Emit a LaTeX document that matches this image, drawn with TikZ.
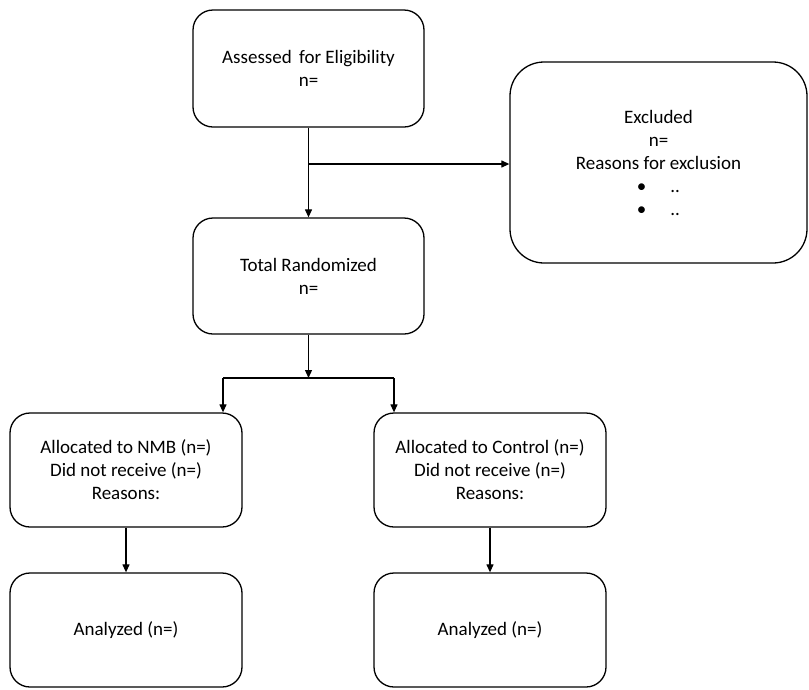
\documentclass[tikz,border=0pt]{standalone}
\usepackage{fontspec}
\setmainfont{Carlito}
\usetikzlibrary{arrows.meta}
\begin{document}
\begin{tikzpicture}[x=1pt,y=-1pt,
  box/.style={draw=black, line width=1.3pt, rounded corners=20pt, align=center,
    font=\fontsize{19}{23}\selectfont, inner sep=0pt},
  conn/.style={line width=1.2pt, -{Triangle[length=8pt,width=7pt]}},
  plain/.style={line width=1.2pt}]
\useasboundingbox (0,0) rectangle (809,689);
\node[box, minimum width=231pt, minimum height=117pt] (assess) at (308.5,68.5)
  {Assessed\hspace{3pt} for Eligibility\\n=};
\node[box, rounded corners=34pt, minimum width=297pt, minimum height=201pt] (excl) at (658.5,162.5)
  {Excluded\\n=\\Reasons for exclusion\\\textbullet\hspace{24pt}..\\\textbullet\hspace{24pt}..};
\node[box, minimum width=231pt, minimum height=116pt] (total) at (308.5,276)
  {Total Randomized\\n=};
\node[box, minimum width=232pt, minimum height=114pt] (nmb) at (126,470)
  {Allocated to NMB (n=)\\Did not receive (n=)\\Reasons:};
\node[box, minimum width=232pt, minimum height=114pt] (ctrl) at (490,470)
  {Allocated to Control (n=)\\Did not receive (n=)\\Reasons:};
\node[box, minimum width=232pt, minimum height=114pt] (an1) at (126,630)
  {Analyzed (n=)};
\node[box, minimum width=232pt, minimum height=114pt] (an2) at (490,630)
  {Analyzed (n=)};
\coordinate (br) at (308.5,164);
\coordinate (j) at (308.5,378);
\coordinate (jl) at (223,378);
\coordinate (jr) at (394,378);
\draw[conn] (assess.south) -- (total.north);
\draw[conn] (br) -- (br -| excl.west);
\draw[conn] (total.south) -- (j);
\draw[plain] (jl) -- (jr);
\draw[conn] (jl) -- (jl |- nmb.north);
\draw[conn] (jr) -- (jr |- ctrl.north);
\draw[conn] (nmb.south) -- (an1.north);
\draw[conn] (ctrl.south) -- (an2.north);
\end{tikzpicture}
\end{document}
